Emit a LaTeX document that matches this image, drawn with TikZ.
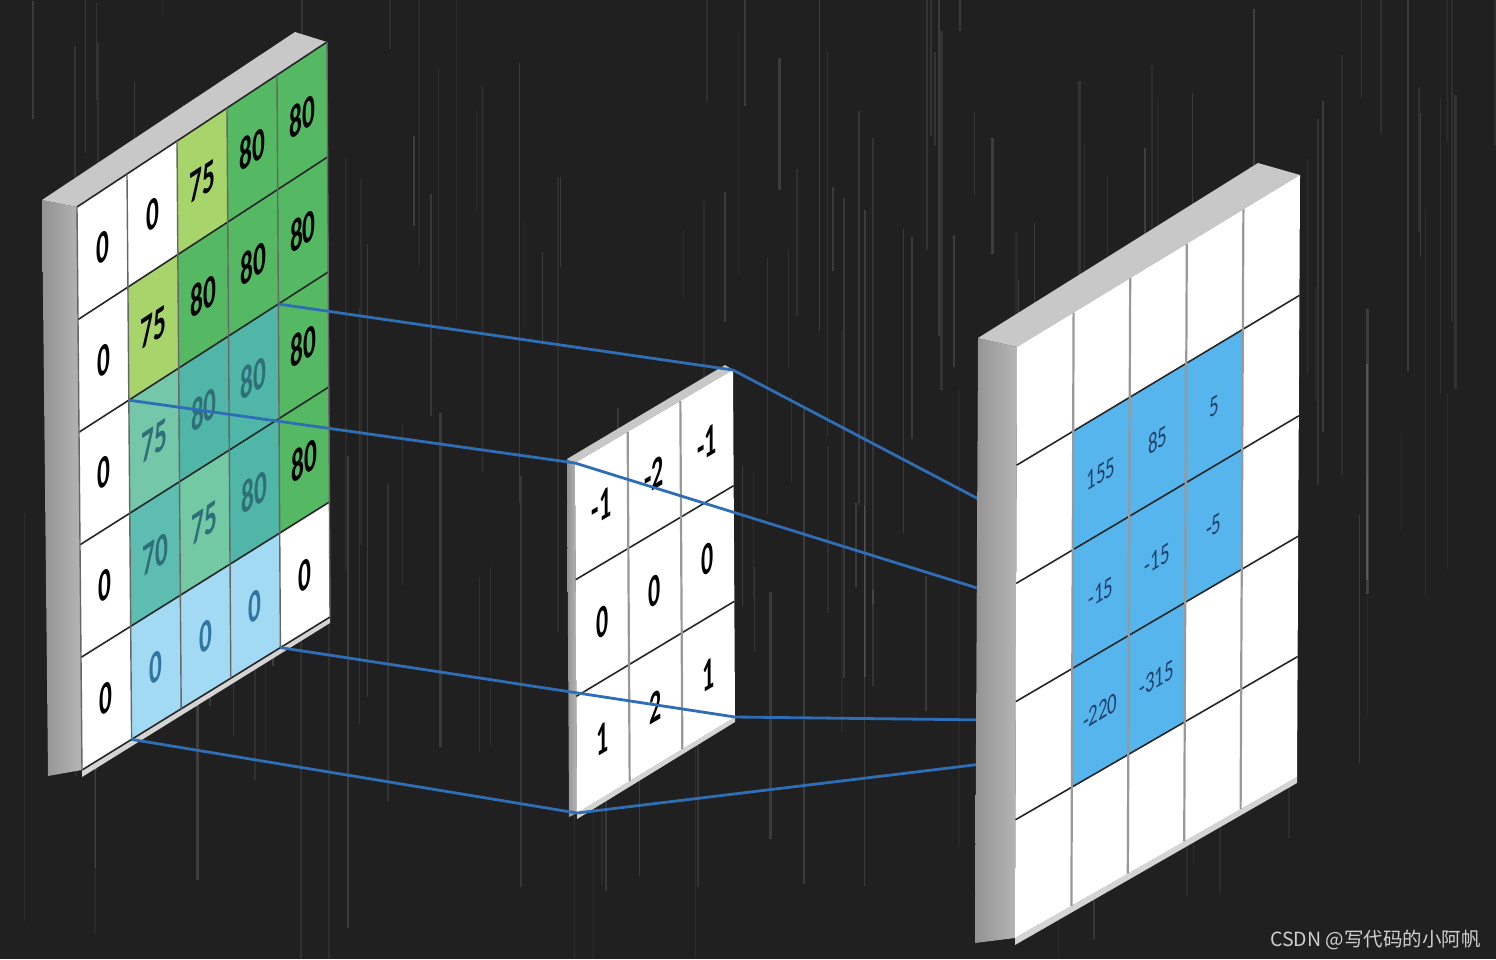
\documentclass[tikz,border=0pt]{standalone}
\usepackage{fontspec}
\newfontfamily\carl{Carlito}
\newfontfamily\cjk{Noto Sans CJK SC}
\usetikzlibrary{calc}
\definecolor{bg}{HTML}{202020}
\definecolor{lgreen}{HTML}{A8D46C}
\definecolor{dgreen}{HTML}{55B964}
\definecolor{tealA}{HTML}{74C7A8}
\definecolor{tealB}{HTML}{5CBDB0}
\definecolor{tealC}{HTML}{50B6A7}
\definecolor{tealD}{HTML}{74C9A5}
\definecolor{lblue}{HTML}{A3DAF3}
\definecolor{oblue}{HTML}{55B5EC}
\definecolor{conn}{HTML}{2F6EB5}
\definecolor{sideg}{HTML}{ADADAD}
\definecolor{topg}{HTML}{C8C8C8}
\definecolor{rimg}{HTML}{D4D4D4}
\definecolor{tnum}{HTML}{2E6F78}
\definecolor{bnum}{HTML}{3176A2}
\definecolor{rnum}{HTML}{22416B}
\definecolor{wm}{HTML}{CFCFCF}
\tikzset{
  sideface/.style={left color=sideg!85!black, right color=sideg!90!white},
  topface/.style={fill=topg},
  rimface/.style={fill=rimg},
  hline/.style={draw=black!85, line width=1.6pt},
  vline/.style={draw=black!60, line width=1.4pt},
  gvline/.style={draw=black!40, line width=2.2pt},
  lnum/.style={font=\carl\bfseries\fontsize{46}{46}\selectfont, inner sep=0pt, cm={0.55,0.363,0,1,(0,0)}},
  knum/.style={font=\carl\bfseries\fontsize{46}{46}\selectfont, inner sep=0pt, cm={0.52,0.307,0,1,(0,0)}},
  rnumst/.style={font=\carl\fontsize{29}{29}\selectfont, inner sep=0pt, text=rnum, cm={0.65,0.39,0,1,(0,0)}},
  connector/.style={draw=conn, line width=2.8pt},
}
\newcommand{\mkgrid}[3]{%
  \foreach \i in {0,...,#2}{
    \coordinate (#1t\i) at ($(#1TL)!\i/#2!(#1TR)$);
    \coordinate (#1b\i) at ($(#1BL)!\i/#2!(#1BR)$);
    \foreach \j in {0,...,#3}{
      \coordinate (#1-\i-\j) at ($(#1t\i)!\j/#3!(#1b\i)$);
    }
  }}
\newcommand{\cellfill}[4]{%
  \pgfmathtruncatemacro\ci{#2+1}\pgfmathtruncatemacro\cj{#3+1}%
  \fill[#4] (#1-#2-#3) -- (#1-\ci-#3) -- (#1-\ci-\cj) -- (#1-#2-\cj) -- cycle;}
\newcommand{\celltext}[5]{%
  \pgfmathtruncatemacro\ci{#2+1}\pgfmathtruncatemacro\cj{#3+1}%
  \node[#4] (#1n#2#3) at ($(#1-#2-#3)!0.5!(#1-\ci-\cj)$) {#5};}
\begin{document}
\begin{tikzpicture}[x=1pt,y=-1pt]
\useasboundingbox (0,0) rectangle (1496,959);
\fill[bg] (0,0) rectangle (1496,959);
\begin{scope}
\clip (0,0) rectangle (1496,959);
\pgfmathsetseed{17}
\foreach \k in {1,...,170}{
  \pgfmathsetmacro\sx{rnd*1496}
  \pgfmathsetmacro\sy{rnd*700-80}
  \pgfmathsetmacro\sl{60+rnd*420}
  \pgfmathsetmacro\so{0.04+rnd*0.10}
  \pgfmathsetmacro\sw{0.8+rnd*1.6}
  \draw[white,opacity=\so,line width=\sw pt] (\sx,\sy) -- (\sx,{\sy+\sl});
}
\end{scope}

% ---------------- left slab (input) ----------------
\coordinate (LTL) at (77,207); \coordinate (LTR) at (327,42);
\coordinate (LBR) at (330,617); \coordinate (LBL) at (82,770);
\coordinate (Lk1) at (42,200); \coordinate (Lk2) at (295,32); \coordinate (Lk3) at (48,776);
\fill[sideface] (Lk1) -- (LTL) -- (LBL) -- (Lk3) -- cycle;
\fill[topface] (Lk1) -- (Lk2) -- (LTR) -- (LTL) -- cycle;
\fill[rimface] (LBL) -- (LBR) -- ($(LBR)+(0,6)$) -- ($(LBL)+(0,7)$) -- cycle;
\fill[white] (LTL) -- (LTR) -- (LBR) -- (LBL) -- cycle;
\mkgrid{L}{5}{5}
\foreach \i/\j/\c in {2/0/lgreen,3/0/dgreen,4/0/dgreen,
  1/1/lgreen,2/1/dgreen,3/1/dgreen,4/1/dgreen,
  1/2/tealA,2/2/tealC,3/2/tealC,4/2/dgreen,
  1/3/tealB,2/3/tealD,3/3/tealC,4/3/dgreen,
  1/4/lblue,2/4/lblue,3/4/lblue}{\cellfill{L}{\i}{\j}{\c}}
\foreach \j in {0,...,5} \draw[hline] (L-0-\j) -- (L-5-\j);
\foreach \i in {0,...,5} \draw[vline] (L-\i-0) -- (L-\i-5);
\foreach \i/\j/\v/\tc in {0/0/0/black,1/0/0/black,2/0/75/black,3/0/80/black,4/0/80/black,
  0/1/0/black,1/1/75/black,2/1/80/black,3/1/80/black,4/1/80/black,
  0/2/0/black,1/2/75/tnum,2/2/80/tnum,3/2/80/tnum,4/2/80/black,
  0/3/0/black,1/3/70/tnum,2/3/75/tnum,3/3/80/tnum,4/3/80/black,
  0/4/0/black,1/4/0/bnum,2/4/0/bnum,3/4/0/bnum,4/4/0/black}{\celltext{L}{\i}{\j}{lnum,text=\tc}{\v}}

% ---------------- kernel ----------------
\coordinate (KTL) at (575,463); \coordinate (KTR) at (733,370);
\coordinate (KBR) at (735,717); \coordinate (KBL) at (577,813);
\coordinate (Kk1) at (567,459); \coordinate (Kk2) at (725,365); \coordinate (Kk3) at (569,817);
\fill[sideface] (Kk1) -- (KTL) -- (KBL) -- (Kk3) -- cycle;
\fill[topface] (Kk1) -- (Kk2) -- (KTR) -- (KTL) -- cycle;
\fill[rimface] (KBL) -- (KBR) -- ($(KBR)+(0,5)$) -- ($(KBL)+(0,6)$) -- cycle;
\fill[white] (KTL) -- (KTR) -- (KBR) -- (KBL) -- cycle;
\mkgrid{K}{3}{3}
\foreach \j in {1,2} \draw[hline] (K-0-\j) -- (K-3-\j);
\foreach \i in {1,2} \draw[gvline] (K-\i-0) -- (K-\i-3);
\foreach \i/\j/\v in {0/0/-1,1/0/-2,2/0/-1,0/1/0,1/1/0,2/1/0,0/2/1,1/2/2,2/2/1}{\celltext{K}{\i}{\j}{knum}{\v}}

% ---------------- connectors ----------------
\coordinate (E1) at (990,505); \coordinate (E2) at (990,592);
\coordinate (E3) at (990,720); \coordinate (E4) at (990,763);
\draw[connector] (L-4-2) -- (KTR);
\draw[connector] (L-1-2) -- (KTL);
\draw[connector] (L-4-5) -- (KBR);
\draw[connector] (L-1-5) -- (KBL);
\draw[connector] (KTR) -- (E1);
\draw[connector] (KTL) -- (E2);
\draw[connector] (KBR) -- (E3);
\draw[connector] (KBL) -- (E4);

% ---------------- right slab (output) ----------------
\coordinate (RTL) at (1017,347); \coordinate (RTR) at (1300,175);
\coordinate (RBR) at (1297,777); \coordinate (RBL) at (1015,938);
\coordinate (Rk1) at (978,338); \coordinate (Rk2) at (1258,163); \coordinate (Rk3) at (975,943);
\fill[sideface] (Rk1) -- (RTL) -- (RBL) -- (Rk3) -- cycle;
\fill[topface] (Rk1) -- (Rk2) -- (RTR) -- (RTL) -- cycle;
\fill[rimface] (RBL) -- (RBR) -- ($(RBR)+(0,6)$) -- ($(RBL)+(0,7)$) -- cycle;
\fill[white] (RTL) -- (RTR) -- (RBR) -- (RBL) -- cycle;
\mkgrid{R}{5}{5}
\foreach \i/\j in {1/1,2/1,3/1,1/2,2/2,3/2,1/3,2/3}{\cellfill{R}{\i}{\j}{oblue}}
\foreach \j in {1,...,4} \draw[hline] (R-0-\j) -- (R-5-\j);
\foreach \i in {1,...,4} \draw[gvline] (R-\i-0) -- (R-\i-5);
\foreach \i/\j/\v in {1/1/155,2/1/85,3/1/5,1/2/-15,2/2/-15,3/2/-5,1/3/-220,2/3/-315}{\celltext{R}{\i}{\j}{rnumst}{\v}}

% ---------------- watermark ----------------
\node[font=\cjk\fontsize{19.5}{19.5}\selectfont, text=wm, anchor=east, inner sep=0pt] (wmark) at (1481,940) {CSDN @写代码的小阿帆};
\end{tikzpicture}
\end{document}
